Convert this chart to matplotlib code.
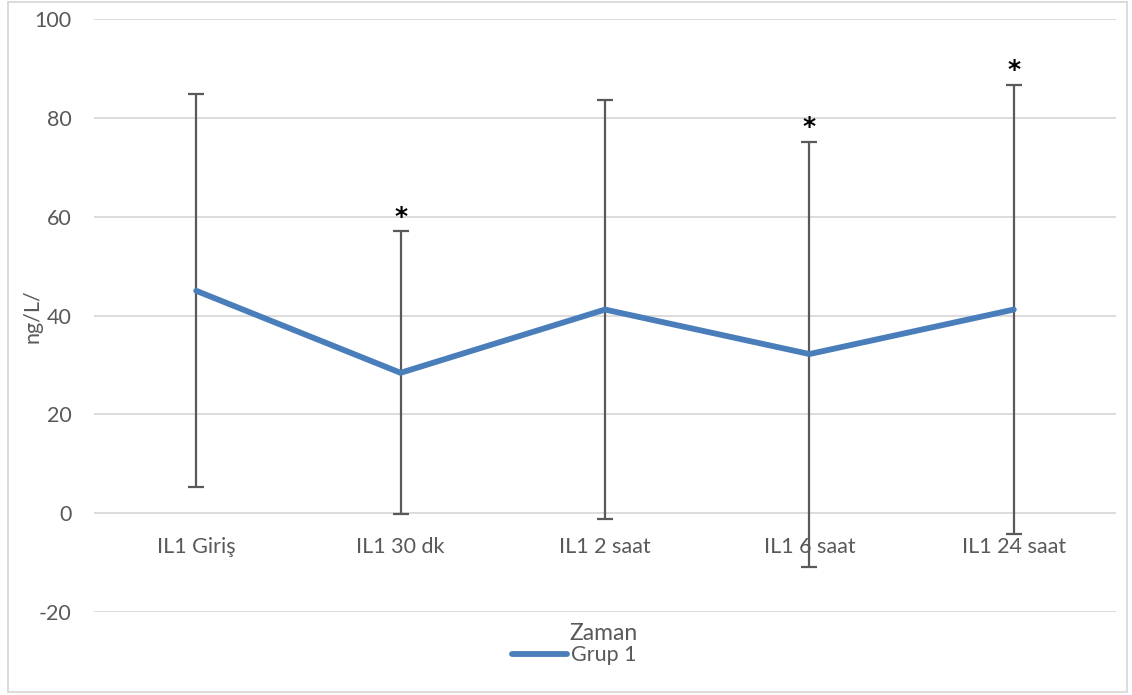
import matplotlib
matplotlib.use("Agg")
import matplotlib.pyplot as plt
from matplotlib.patches import Rectangle

categories = ["IL1 Giriş", "IL1 30 dk", "IL1 2 saat", "IL1 6 saat", "IL1 24 saat"]
means = [45.0, 28.4, 41.2, 32.2, 41.2]
errors = [39.8, 28.6, 42.4, 43.0, 45.5]
significant = [False, True, False, True, True]
yticks = [-20, 0, 20, 40, 60, 80, 100]

W, H = 1132, 695
fig = plt.figure(figsize=(W / 100, H / 100), dpi=100)
plt.rcParams["font.family"] = ["Lato", "DejaVu Sans"]

text_col = "#595959"
grid_col = "#d9d9d9"
line_col = "#4a7ebb"
fs = 15.5

ax = fig.add_axes([94 / W, 1 - 612 / H, (1116 - 94) / W, (612 - 19) / H])
ax.set_xlim(-0.5, len(categories) - 0.5)
ax.set_ylim(-20, 100)

x = list(range(len(categories)))
ax.errorbar(x, means, yerr=errors, fmt="none", ecolor=text_col,
            elinewidth=1.6, capsize=6, capthick=1.6, zorder=2)
ax.plot(x, means, color=line_col, lw=4.2, solid_capstyle="round",
        solid_joinstyle="round", zorder=3)

# significance markers above the upper whisker
for xi, m, e, s in zip(x, means, errors, significant):
    if s:
        ax.annotate("*", (xi, m + e), xytext=(0, 2), textcoords="offset points",
                    ha="center", va="bottom", fontsize=18, fontweight="bold",
                    color="black", family="DejaVu Sans")

ax.set_yticks(yticks)
ax.set_yticklabels([str(v) for v in yticks])
ax.yaxis.grid(True, color=grid_col, lw=1.3)
ax.set_axisbelow(True)
for sp in ax.spines.values():
    sp.set_visible(False)
ax.spines["bottom"].set_position(("data", 0))
ax.set_xticks(x)
ax.set_xticklabels(categories)
ax.tick_params(axis="both", length=0, labelsize=fs, labelcolor=text_col)
ax.tick_params(axis="x", pad=17)
ax.tick_params(axis="y", pad=16)

fig.text(32 / W, 1 - 316 / H, "ng/L/", rotation=90, ha="center", va="center",
         fontsize=fs, color=text_col)

fig.text(604 / W, 1 - 633 / H, "Zaman", ha="center", va="center",
         fontsize=fs + 1, color=text_col)

# legend entry
fig.add_artist(plt.Line2D([512 / W, 567 / W], [1 - 654 / H, 1 - 654 / H],
                          color=line_col, lw=4.2, solid_capstyle="round"))
fig.text(571 / W, 1 - 655 / H, "Grup 1", ha="left", va="center",
         fontsize=fs, color=text_col)

# chart frame
fig.add_artist(Rectangle((8 / W, 1 - 692 / H), (1127 - 8) / W, (692 - 2) / H,
                         transform=fig.transFigure, fill=False,
                         edgecolor=grid_col, lw=1.3))

fig.savefig("out.png", dpi=100, facecolor="white")
